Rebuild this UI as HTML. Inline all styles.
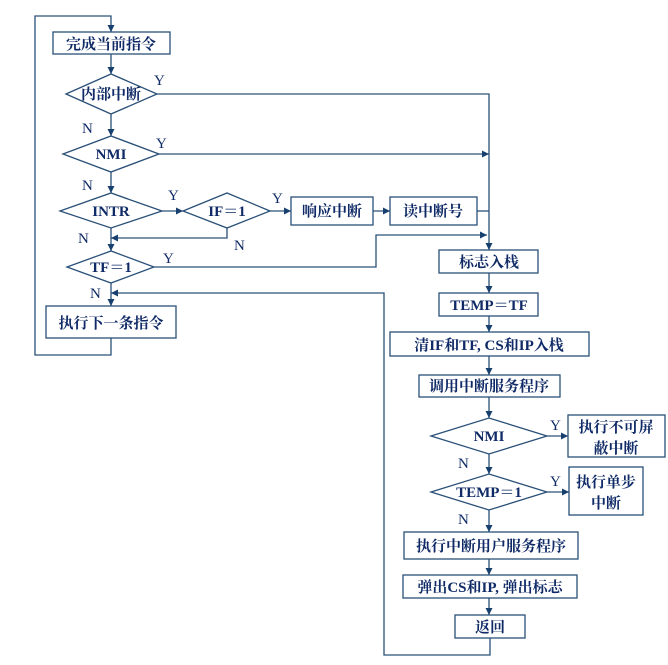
<!DOCTYPE html>
<html><head><meta charset="utf-8"><style>
html,body{margin:0;padding:0;background:#fff}
svg text{font-family:"Liberation Serif","Noto Serif CJK SC",serif;font-weight:bold;fill:#0f2a66;font-size:15px}
.l{font-weight:normal;font-size:15px}
</style></head><body>
<svg width="668" height="660" viewBox="0 0 668 660" xmlns="http://www.w3.org/2000/svg">
<defs><marker id="a" viewBox="0 0 10 10" refX="10" refY="5" markerWidth="7" markerHeight="7" orient="auto" markerUnits="userSpaceOnUse"><path d="M0,0L10,5L0,10z" fill="#17406e"/></marker></defs>
<g fill="none" stroke="#2a5078" stroke-width="1.3">
<!-- outer loop -->
<polyline points="111,338 111,355 35,355 35,16 111,16 111,32" marker-end="url(#a)"/>
<line x1="111" y1="54" x2="111" y2="74" marker-end="url(#a)"/>
<line x1="111" y1="114" x2="111" y2="136" marker-end="url(#a)"/>
<line x1="111" y1="172" x2="111" y2="193" marker-end="url(#a)"/>
<line x1="111" y1="228" x2="111" y2="251" marker-end="url(#a)"/>
<line x1="111" y1="283" x2="111" y2="306" marker-end="url(#a)"/>
<polyline points="157,94 489,94 489,250" marker-end="url(#a)"/>
<line x1="159" y1="154" x2="489" y2="154" marker-end="url(#a)"/>
<line x1="162" y1="211" x2="183" y2="211" marker-end="url(#a)"/>
<line x1="270" y1="211" x2="291" y2="211" marker-end="url(#a)"/>
<line x1="373" y1="211" x2="390" y2="211" marker-end="url(#a)"/>
<line x1="477" y1="211" x2="489" y2="211"/>
<polyline points="227,228 227,238 111,238" marker-end="url(#a)"/>
<polyline points="154,267 376,267 376,235 487,235" marker-end="url(#a)"/>
<polyline points="490,638 490,655 384,655 384,293 111,293" marker-end="url(#a)"/>
<line x1="489" y1="273" x2="489" y2="293" marker-end="url(#a)"/>
<line x1="489" y1="316" x2="489" y2="332" marker-end="url(#a)"/>
<line x1="489" y1="356" x2="489" y2="375" marker-end="url(#a)"/>
<line x1="489" y1="397" x2="489" y2="418" marker-end="url(#a)"/>
<line x1="489" y1="454" x2="489" y2="474" marker-end="url(#a)"/>
<line x1="489" y1="510" x2="489" y2="532" marker-end="url(#a)"/>
<line x1="489" y1="559" x2="489" y2="575" marker-end="url(#a)"/>
<line x1="489" y1="598" x2="489" y2="615" marker-end="url(#a)"/>
<line x1="547" y1="436" x2="568" y2="436" marker-end="url(#a)"/>
<line x1="547" y1="492" x2="569" y2="492" marker-end="url(#a)"/>
</g>
<g fill="#fff" stroke="#2a5078" stroke-width="1.3">
<rect x="53" y="32" width="117" height="22"/>
<polygon points="66,94 111,74 157,94 111,114"/>
<polygon points="63,154 111,136 159,154 111,172"/>
<polygon points="60,211 111,193 162,211 111,228"/>
<polygon points="183,211 227,193 270,211 227,228"/>
<rect x="291" y="197" width="82" height="28"/>
<rect x="390" y="197" width="87" height="28"/>
<polygon points="67,267 111,251 154,267 111,283"/>
<rect x="46" y="306" width="130" height="32"/>
<rect x="439" y="250" width="99" height="23"/>
<rect x="439" y="293" width="99" height="23"/>
<rect x="390" y="332" width="199" height="24"/>
<rect x="419" y="375" width="141" height="22"/>
<polygon points="431,436 489,418 547,436 489,454"/>
<rect x="568" y="415" width="97" height="42"/>
<polygon points="431,492 489,474 547,492 489,510"/>
<rect x="569" y="467" width="74" height="48"/>
<rect x="404" y="532" width="174" height="27"/>
<rect x="403" y="575" width="174" height="23"/>
<rect x="455" y="615" width="70" height="23"/>
</g>
<g text-anchor="middle">
<text x="111" y="49">完成当前指令</text>
<text x="111" y="99">内部中断</text>
<text x="111" y="159">NMI</text>
<text x="111" y="216">INTR</text>
<text x="227" y="216">IF＝1</text>
<text x="332" y="216">响应中断</text>
<text x="433" y="216">读中断号</text>
<text x="111" y="272">TF＝1</text>
<text x="111" y="328">执行下一条指令</text>
<text x="489" y="267">标志入栈</text>
<text x="489" y="310">TEMP＝TF</text>
<text x="489" y="350">清IF和TF, CS和IP入栈</text>
<text x="489" y="391">调用中断服务程序</text>
<text x="489" y="441">NMI</text>
<text x="616" y="432">执行不可屏</text>
<text x="616" y="453">蔽中断</text>
<text x="489" y="497">TEMP＝1</text>
<text x="606" y="487">执行单步</text>
<text x="606" y="508">中断</text>
<text x="491" y="551">执行中断用户服务程序</text>
<text x="490" y="592">弹出CS和IP, 弹出标志</text>
<text x="490" y="632">返回</text>
</g>
<g class="l">
<text class="l" x="154" y="85">Y</text>
<text class="l" x="82" y="133">N</text>
<text class="l" x="156" y="148">Y</text>
<text class="l" x="82" y="190">N</text>
<text class="l" x="168" y="200">Y</text>
<text class="l" x="272" y="203">Y</text>
<text class="l" x="78" y="243">N</text>
<text class="l" x="234" y="250">N</text>
<text class="l" x="163" y="263">Y</text>
<text class="l" x="90" y="298">N</text>
<text class="l" x="550" y="430">Y</text>
<text class="l" x="458" y="468">N</text>
<text class="l" x="550" y="486">Y</text>
<text class="l" x="458" y="524">N</text>
</g>
</svg>
</body></html>
